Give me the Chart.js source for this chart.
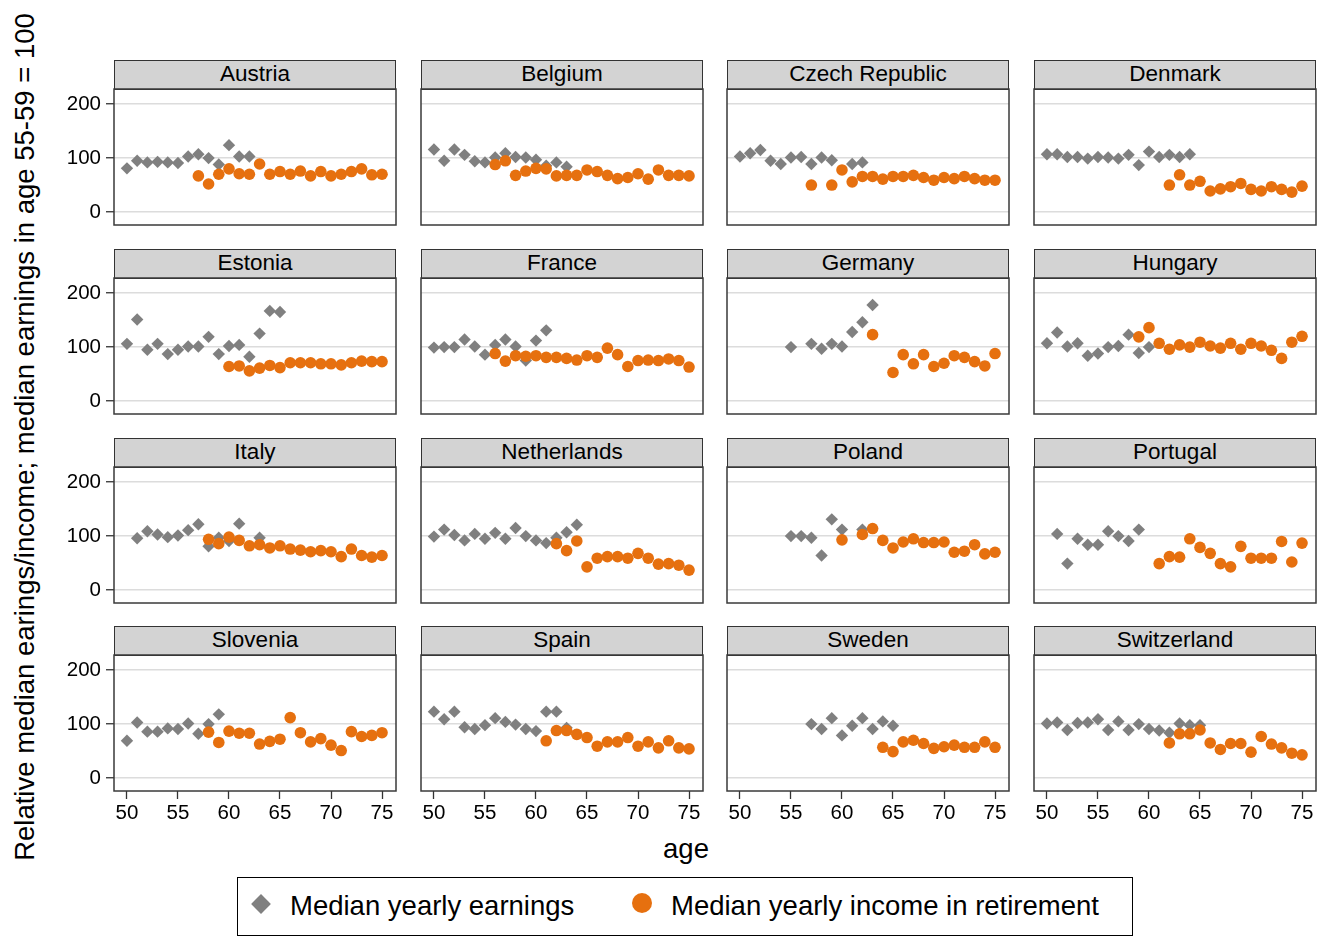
<!DOCTYPE html>
<html><head><meta charset="utf-8">
<script src="https://cdn.jsdelivr.net/npm/chart.js@4"></script>
<style>
body{margin:0;background:#fff;width:1325px;height:937px;overflow:hidden;position:relative;font-family:"Liberation Sans",Arial,sans-serif;}
.hdr{position:absolute;background:#d3d3d3;border:1.5px solid #333;box-sizing:border-box;text-align:center;font-size:22.5px;color:#000;line-height:26px;}
canvas{position:absolute;}
.txt{position:absolute;color:#000;white-space:nowrap;}
</style></head><body>
<script>
// ---------- DATA ----------
const ages = [50,51,52,53,54,55,56,57,58,59,60,61,62,63,64,65,66,67,68,69,70,71,72,73,74,75];
const countries = ["Austria","Belgium","Czech Republic","Denmark","Estonia","France","Germany","Hungary","Italy","Netherlands","Poland","Portugal","Slovenia","Spain","Sweden","Switzerland"];
const xTicks = [50,55,60,65,70,75];
const yTicks = [0,100,200];
const seriesNames = ["Median yearly earnings","Median yearly income in retirement"];
const _ = null;

const earnAustria = [81,95,92,93,92,91,103,107,100,88,124,103,103,_,_,_,_,_,_,_,_,_,_,_,_,_];
const incAustria  = [_,_,_,_,_,_,_,67,52,70,80,71,70,89,70,75,70,76,67,75,67,70,75,80,69,70];
const earnBelgium = [116,95,116,106,94,92,101,109,102,101,97,86,92,84,_,_,_,_,_,_,_,_,_,_,_,_];
const incBelgium  = [_,_,_,_,_,_,88,95,68,76,81,80,67,68,68,78,75,68,62,64,71,61,78,68,68,67];
const earnCzech   = [103,109,115,95,89,101,102,89,101,96,_,89,92,_,_,_,_,_,_,_,_,_,_,_,_,_];
const incCzech    = [_,_,_,_,_,_,_,50,_,50,78,56,66,66,61,66,66,68,64,59,64,62,66,62,59,59];
const earnDenmark = [107,107,102,102,99,102,101,99,106,87,112,102,106,102,107,_,_,_,_,_,_,_,_,_,_,_];
const incDenmark  = [_,_,_,_,_,_,_,_,_,_,_,_,50,69,50,57,39,43,47,53,42,39,47,42,37,48];
const earnEstonia = [106,151,95,106,87,95,101,101,119,87,102,104,82,125,167,165,_,_,_,_,_,_,_,_,_,_];
const incEstonia  = [_,_,_,_,_,_,_,_,_,_,64,65,56,61,66,62,71,71,71,69,69,67,71,74,73,73];
const earnFrance  = [99,100,100,114,101,86,104,114,101,75,112,131,_,_,_,_,_,_,_,_,_,_,_,_,_,_];
const incFrance   = [_,_,_,_,_,_,88,74,84,83,84,81,81,79,76,84,81,98,86,64,75,76,75,78,75,63];
const earnGermany = [_,_,_,_,_,100,_,106,97,106,101,128,146,178,_,_,_,_,_,_,_,_,_,_,_,_];
const incGermany  = [_,_,_,_,_,_,_,_,_,_,_,_,_,123,_,53,86,69,86,64,70,84,81,73,65,88];
const earnHungary = [107,127,101,107,84,88,100,102,123,89,100,_,_,_,_,_,_,_,_,_,_,_,_,_,_,_];
const incHungary  = [_,_,_,_,_,_,_,_,_,119,136,107,96,104,100,109,102,98,107,96,107,102,94,79,109,120];
const earnItaly   = [_,96,109,103,98,101,111,122,81,97,91,123,_,97,_,_,_,_,_,_,_,_,_,_,_,_];
const incItaly    = [_,_,_,_,_,_,_,_,94,86,98,92,82,84,78,82,76,74,71,73,71,62,76,64,61,64];
const earnNetherlands = [99,112,102,92,104,95,106,95,115,100,92,87,97,107,121,_,_,_,_,_,_,_,_,_,_,_];
const incNetherlands  = [_,_,_,_,_,_,_,_,_,_,_,_,86,73,91,43,59,62,62,59,68,59,48,49,46,37];
const earnPoland  = [_,_,_,_,_,100,100,97,64,131,112,_,112,_,_,_,_,_,_,_,_,_,_,_,_,_];
const incPoland   = [_,_,_,_,_,_,_,_,_,_,93,_,103,114,92,78,89,95,88,88,89,70,72,84,67,70];
const earnPortugal = [_,104,49,95,84,84,109,100,91,112,_,_,_,_,_,_,_,_,_,_,_,_,_,_,_,_];
const incPortugal  = [_,_,_,_,_,_,_,_,_,_,_,49,62,61,95,79,68,49,43,81,59,59,59,90,52,87];
const earnSlovenia = [69,103,86,86,92,91,101,82,100,118,_,_,_,_,_,_,_,_,_,_,_,_,_,_,_,_];
const incSlovenia  = [_,_,_,_,_,_,_,_,85,66,87,83,83,63,68,72,112,84,67,73,61,51,86,77,79,84];
const earnSpain   = [123,109,123,94,91,98,111,104,99,91,87,123,123,93,_,_,_,_,_,_,_,_,_,_,_,_];
const incSpain    = [_,_,_,_,_,_,_,_,_,_,_,69,88,88,81,75,59,67,67,75,59,67,56,69,56,54];
const earnSweden  = [_,_,_,_,_,_,_,100,91,111,79,97,111,91,105,97,_,_,_,_,_,_,_,_,_,_];
const incSweden   = [_,_,_,_,_,_,_,_,_,_,_,_,_,_,57,49,67,70,64,55,58,61,57,57,67,57];
const earnSwitzerland = [101,103,89,102,103,109,89,105,89,100,91,88,84,101,98,98,_,_,_,_,_,_,_,_,_,_];
const incSwitzerland  = [_,_,_,_,_,_,_,_,_,_,_,_,65,82,82,89,65,53,64,64,48,77,63,56,46,43];

const earnings = [earnAustria,earnBelgium,earnCzech,earnDenmark,earnEstonia,earnFrance,earnGermany,earnHungary,earnItaly,earnNetherlands,earnPoland,earnPortugal,earnSlovenia,earnSpain,earnSweden,earnSwitzerland];
const income = [incAustria,incBelgium,incCzech,incDenmark,incEstonia,incFrance,incGermany,incHungary,incItaly,incNetherlands,incPoland,incPortugal,incSlovenia,incSpain,incSweden,incSwitzerland];

// ---------- LAYOUT ----------
const colLeft = [114, 421, 727, 1034];
const rowTop = [89, 278, 467, 655];
const plotW = 282, plotH = 136, hdrH = 29;
const padL = 60, padT = 3, padR = 6, padB = 40;
const FONT = '"Liberation Sans", Arial, sans-serif';
const GREY = '#808080', ORANGE = '#e6700f';

const framePlugin = {
  id: 'frame',
  afterDraw(chart) {
    const {ctx, chartArea: a} = chart;
    ctx.save();
    ctx.strokeStyle = '#3a3a3a';
    ctx.lineWidth = 1.5;
    ctx.strokeRect(a.left, a.top, a.right - a.left, a.bottom - a.top);
    ctx.restore();
  }
};

function toPts(vals) {
  const out = [];
  vals.forEach((v, i) => { if (v !== null) out.push({x: ages[i], y: v}); });
  return out;
}
function zeroPad(s) { s.paddingTop = 0; s.paddingBottom = 0; s.paddingLeft = 0; s.paddingRight = 0; }

countries.forEach((name, k) => {
  const r = Math.floor(k / 4), c = k % 4;
  const hdr = document.createElement('div');
  hdr.className = 'hdr';
  hdr.style.left = colLeft[c] + 'px';
  hdr.style.top = (rowTop[r] - hdrH) + 'px';
  hdr.style.width = plotW + 'px';
  hdr.style.height = (hdrH + 1) + 'px';
  hdr.textContent = name;
  document.body.appendChild(hdr);

  const cv = document.createElement('canvas');
  const W = padL + plotW + padR, H = padT + plotH + padB;
  cv.width = W; cv.height = H;
  cv.style.width = W + 'px'; cv.style.height = H + 'px';
  cv.style.left = (colLeft[c] - padL) + 'px';
  cv.style.top = (rowTop[r] - padT) + 'px';
  document.body.appendChild(cv);

  const showY = c === 0, showX = r === 3;
  new Chart(cv, {
    type: 'scatter',
    data: {
      datasets: [
        {label: seriesNames[0], data: toPts(earnings[k]), pointStyle: 'rectRot', pointRadius: 6.2, pointHoverRadius: 6.2,
         backgroundColor: GREY, borderColor: GREY, borderWidth: 0, order: 2},
        {label: seriesNames[1], data: toPts(income[k]), pointStyle: 'circle', pointRadius: 5.8, pointHoverRadius: 5.8,
         backgroundColor: ORANGE, borderColor: ORANGE, borderWidth: 0, order: 1}
      ]
    },
    options: {
      responsive: false, animation: false, devicePixelRatio: 1,
      events: [],
      layout: {autoPadding: false, padding: {left: 0, top: padT, right: padR, bottom: 0}},
      plugins: {legend: {display: false}, tooltip: {enabled: false}},
      scales: {
        x: {
          type: 'linear', min: 48.73, max: 76.37,
          afterBuildTicks: s => { s.ticks = xTicks.map(v => ({value: v})); },
          afterFit: s => { s.height = padB; zeroPad(s); },
          border: {display: false},
          grid: {display: true, drawOnChartArea: false, drawTicks: showX, tickLength: 8, tickColor: '#333', tickWidth: 1.3},
          ticks: {display: showX, color: '#000', font: {family: FONT, size: 20.5}, padding: 2, maxRotation: 0, autoSkip: false}
        },
        y: {
          type: 'linear', min: -24, max: 228,
          afterBuildTicks: s => { s.ticks = yTicks.map(v => ({value: v})); },
          afterFit: s => { s.width = padL; zeroPad(s); },
          border: {display: false},
          grid: {display: true, color: '#dcdcdc', lineWidth: 1.5, drawTicks: showY, tickLength: 8, tickColor: '#333', tickWidth: 1.3},
          ticks: {display: showY, color: '#000', font: {family: FONT, size: 20.5}, padding: 5}
        }
      }
    },
    plugins: [framePlugin]
  });
});

// axis titles
const yt = document.createElement('div');
yt.className = 'txt';
yt.style.cssText += 'left:-425px;top:420px;width:900px;height:34px;line-height:34px;text-align:center;font-size:27.5px;transform:rotate(-90deg);';
yt.textContent = 'Relative median earings/income; median earnings in age 55-59 = 100';
document.body.appendChild(yt);

const xt = document.createElement('div');
xt.className = 'txt';
xt.style.cssText += 'left:586px;top:832px;width:200px;height:34px;line-height:34px;text-align:center;font-size:27.5px;';
xt.textContent = 'age';
document.body.appendChild(xt);

// legend
const lg = document.createElement('div');
lg.style.cssText = 'position:absolute;left:237px;top:877px;width:896px;height:59px;border:1.3px solid #000;box-sizing:border-box;';
document.body.appendChild(lg);
const d1 = document.createElement('div');
d1.style.cssText = 'position:absolute;left:' + (260-237-7) + 'px;top:' + (903-877-7) + 'px;width:14px;height:14px;background:' + GREY + ';transform:rotate(45deg);';
lg.appendChild(d1);
const t1 = document.createElement('div');
t1.className = 'txt';
t1.style.cssText += 'left:' + (289-237) + 'px;top:8px;height:40px;line-height:40px;font-size:27.5px;';
t1.textContent = seriesNames[0];
lg.appendChild(t1);
const d2 = document.createElement('div');
d2.style.cssText = 'position:absolute;left:' + (641-237-10) + 'px;top:' + (902-877-10) + 'px;width:20px;height:20px;border-radius:50%;background:' + ORANGE + ';';
lg.appendChild(d2);
const t2 = document.createElement('div');
t2.className = 'txt';
t2.style.cssText += 'left:' + (670-237) + 'px;top:8px;height:40px;line-height:40px;font-size:27.5px;';
t2.textContent = seriesNames[1];
lg.appendChild(t2);
</script>
</body></html>
